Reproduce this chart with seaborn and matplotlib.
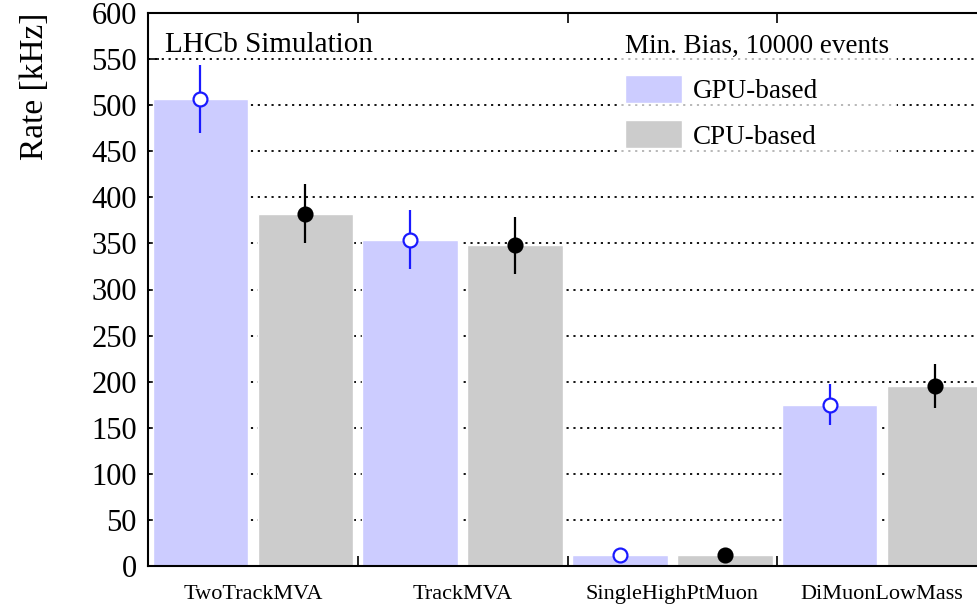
import numpy as np
import pandas as pd
import matplotlib
matplotlib.use("Agg")
import matplotlib.pyplot as plt
import seaborn as sns

# ---- data ----
lines = ["TwoTrackMVA", "TrackMVA", "SingleHighPtMuon", "DiMuonLowMass"]
gpu_rate = [507, 354, 12, 175]
gpu_err = [37, 32, 3, 22]
cpu_rate = [382, 348, 12, 195]
cpu_err = [32, 31, 3, 24]
sources = ["GPU-based", "CPU-based"]
yticks = [0, 50, 100, 150, 200, 250, 300, 350, 400, 450, 500, 550, 600]

sns.set_style("white")
plt.rcParams["font.family"] = ["Liberation Serif", "DejaVu Serif"]
plt.rcParams["mathtext.fontset"] = "stix"
plt.rcParams["text.color"] = "black"
plt.rcParams["axes.labelcolor"] = "black"
plt.rcParams["xtick.color"] = "black"
plt.rcParams["ytick.color"] = "black"

df = pd.DataFrame({
    "line": lines * 2,
    "rate": gpu_rate + cpu_rate,
    "err": gpu_err + cpu_err,
    "source": [sources[0]] * 4 + [sources[1]] * 4,
})

fig = plt.figure(figsize=(9.77, 6.05), dpi=100)
ax = fig.add_axes([148 / 977, 39 / 605, 829 / 977, 553 / 605])

palette = {"GPU-based": "#ccccff", "CPU-based": "#cccccc"}
sns.barplot(data=df, x="line", y="rate", hue="source", order=lines,
            hue_order=sources, palette=palette, width=1.0, gap=0.09,
            saturation=1, errorbar=None, ax=ax, legend=True)

# error bars + markers at bar centres
styles = [dict(color="#1a1aff", mfc="white", mec="#1a1aff"),
          dict(color="black", mfc="black", mec="black")]
for cont, src, st in zip(ax.containers, sources, styles):
    sub = df[df.source == src].set_index("line").loc[lines]
    xs = [b.get_x() + b.get_width() / 2 for b in cont]
    ax.errorbar(xs, sub["rate"].values, yerr=sub["err"].values, fmt="o",
                ms=10, mew=1.6, elinewidth=1.6, capsize=0, zorder=5,
                color=st["color"], mfc=st["mfc"], mec=st["mec"])

ax.set_xlim(-0.5, 3.452)
ax.set_ylim(0, 600)
ax.set_yticks(yticks)
ax.set_yticklabels([str(v) for v in yticks], fontsize=22)
ax.set_xlabel("")
ax.set_ylabel("Rate [kHz]", fontsize=24, loc="top", labelpad=30)

# category labels at centres, tick marks at group boundaries
ax.set_xticks(range(len(lines)))
ax.set_xticklabels(lines, fontsize=16)
ax.tick_params(axis="x", which="major", length=0, pad=14)
ax.set_xticks([0.5, 1.5, 2.5], minor=True)
ax.tick_params(axis="x", which="minor", direction="in", length=7,
               width=1.2, top=True, bottom=True)
ax.tick_params(axis="y", direction="in", length=8, width=1.2, pad=8,
               left=True, right=False)

ax.yaxis.grid(True, linestyle=(0, (1.2, 2.6)), color="black", lw=1.3)
ax.set_axisbelow(True)
for s in ["left", "bottom", "top"]:
    ax.spines[s].set_visible(True)
    ax.spines[s].set_color("black")
    ax.spines[s].set_linewidth(1.5)
ax.spines["right"].set_visible(False)

ax.text(17 / 829, (566 - 45) / 553, "LHCb Simulation", transform=ax.transAxes,
        fontsize=21, va="center", ha="left", color="black")

handles, labels = ax.get_legend_handles_labels()
leg = ax.legend(handles, labels, title="Min. Bias, 10000 events",
                loc="upper left", bbox_to_anchor=(603 / 977, 1 - 12 / 605),
                bbox_transform=fig.transFigure, fontsize=19.5,
                title_fontsize=19.5, frameon=True, framealpha=0.7,
                edgecolor="none", facecolor="white", fancybox=False,
                handlelength=2.1, handleheight=1.22, handletextpad=0.4,
                labelspacing=0.6, borderpad=0.3, alignment="left")
leg.get_frame().set_linewidth(0)

fig.savefig("out.png", dpi=100)
